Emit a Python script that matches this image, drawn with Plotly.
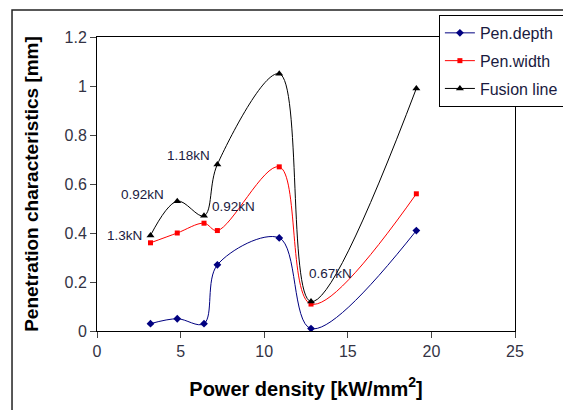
import plotly.graph_objects as go

power_density = [3.2, 4.8, 6.4, 7.2, 10.9, 12.8, 19.1]
pen_depth = [0.03, 0.05, 0.03, 0.27, 0.38, 0.01, 0.41]
pen_width = [0.36, 0.40, 0.44, 0.41, 0.67, 0.11, 0.56]
fusion_line = [0.39, 0.53, 0.47, 0.68, 1.05, 0.12, 0.99]

label_texts = ["1.3kN", "0.92kN", "1.18kN", "0.92kN", "0.67kN"]
label_x = [1.67, 2.75, 5.5, 8.19, 13.94]
label_y = [0.388, 0.559, 0.718, 0.51, 0.233]

x_ticks = [0, 5, 10, 15, 20, 25]
y_ticks = [0, 0.2, 0.4, 0.6, 0.8, 1.0, 1.2]
y_tick_text = ["0", "0.2", "0.4", "0.6", "0.8", "1", "1.2"]

fig = go.Figure()
fig.add_trace(go.Scatter(x=power_density, y=pen_depth, name="Pen.depth", mode="lines+markers",
                         legendgroup="a",
                         line=dict(color="#000080", width=1, shape="spline", smoothing=1),
                         marker=dict(symbol="diamond", size=6, color="#000080")))
fig.add_trace(go.Scatter(x=power_density, y=pen_width, name="Pen.width", mode="lines+markers",
                         legendgroup="b",
                         line=dict(color="#FF0000", width=1, shape="spline", smoothing=1),
                         marker=dict(symbol="square", size=5, color="#FF0000")))
fig.add_trace(go.Scatter(x=power_density, y=fusion_line, name="Fusion line", mode="lines+markers",
                         legendgroup="c",
                         line=dict(color="#000000", width=1, shape="spline", smoothing=1),
                         marker=dict(symbol="triangle-up", size=7, color="#000000")))

for t, x, y in zip(label_texts, label_x, label_y):
    fig.add_annotation(x=x, y=y, text=t, showarrow=False,
                       font=dict(family="Arial, Liberation Sans", size=13.5, color="#1a1a40"))

# outer chart frame
fig.add_shape(type="rect", xref="paper", yref="paper", x0=-0.2033, x1=1.2, y0=-0.3, y1=1.092,
              line=dict(color="#222222", width=1.5), layer="below")

fig.update_layout(
    width=563, height=402,
    margin=dict(l=89, r=56, t=29, b=79, autoexpand=False),
    paper_bgcolor="white", plot_bgcolor="white",
    font=dict(family="Arial, Liberation Sans", color="#1a1a40"),
    showlegend=True,
    legend=dict(x=1.117, y=1.075, xanchor="right", yanchor="top",
                bgcolor="white", bordercolor="#000000", borderwidth=1,
                font=dict(size=16, color="#1a1a40"), itemwidth=30,
                tracegroupgap=4),
    xaxis=dict(range=[0, 25], tickvals=x_ticks, ticks="outside", ticklen=6,
               showline=True, linecolor="black", mirror=True, showgrid=False, zeroline=False,
               tickfont=dict(size=16, color="#333344"),
               title=dict(text="<b>Power density [kW/mm<sup>2</sup>]</b>",
                          font=dict(size=20, color="#000000"), standoff=22)),
    yaxis=dict(range=[0, 1.2], tickvals=y_ticks, ticktext=y_tick_text, ticks="outside", ticklen=6,
               showline=True, linecolor="black", mirror=True, showgrid=False, zeroline=False,
               tickfont=dict(size=16, color="#333344"),
               title=dict(text="<b>Penetration characteristics [mm]</b>",
                          font=dict(size=19, color="#000000"), standoff=20)),
)

fig.write_html("out.html")
